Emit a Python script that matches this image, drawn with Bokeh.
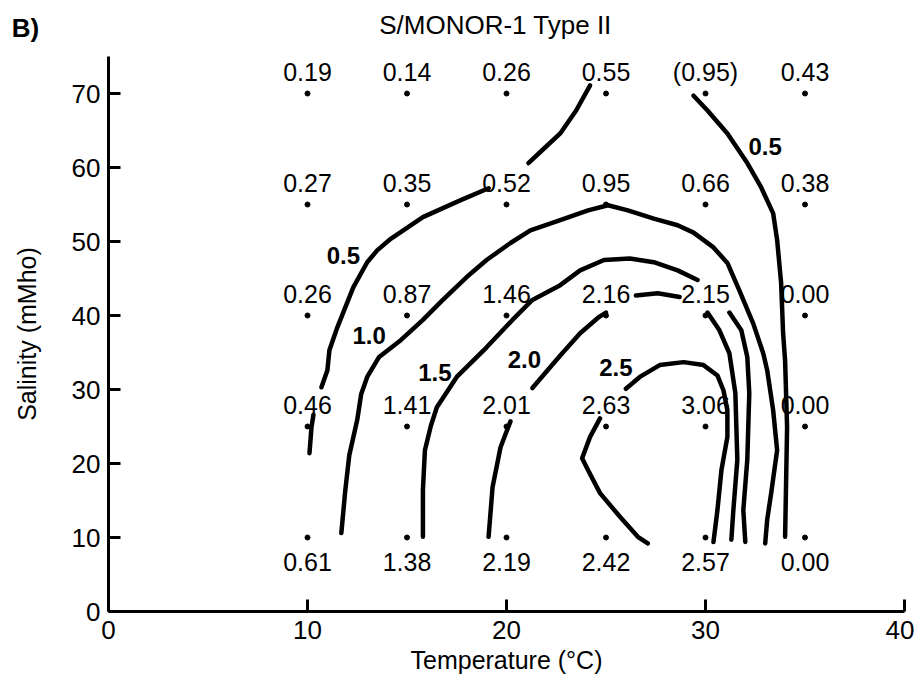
from bokeh.plotting import figure
from bokeh.models import Range1d, ColumnDataSource, FixedTicker
from bokeh.layouts import column
from bokeh.core.properties import value
from bokeh.embed import file_html
from bokeh.resources import INLINE

FONT = "Liberation Sans"

# ---- measured grid (temperature, salinity) and readings ----
temps = [10, 15, 20, 25, 30, 35]
salinities = [70, 55, 40, 25, 10]
row_70 = ["0.19", "0.14", "0.26", "0.55", "(0.95)", "0.43"]
row_55 = ["0.27", "0.35", "0.52", "0.95", "0.66", "0.38"]
row_40 = ["0.26", "0.87", "1.46", "2.16", "2.15", "0.00"]
row_25 = ["0.46", "1.41", "2.01", "2.63", "3.06", "0.00"]
row_10 = ["0.61", "1.38", "2.19", "2.42", "2.57", "0.00"]
readings = [row_70, row_55, row_40, row_25, row_10]

# ---- hand-drawn contour lines (temperature, salinity) ----
c05a_T = [24.2, 23.5, 22.7, 21.9, 21.1]
c05a_S = [71.1, 67.7, 64.6, 62.6, 60.6]
c05b_T = [19.1, 17.7, 15.8, 14.2, 13.5, 13.0, 12.3, 11.9, 11.5, 11.1, 11.0, 10.7]
c05b_S = [57.2, 55.6, 53.3, 50.4, 48.8, 47.2, 43.8, 41.1, 38.4, 35.3, 32.6, 30.3]
c05c_T = [10.3, 10.2, 10.1]
c05c_S = [26.6, 24.9, 21.4]
c05d_T = [29.4, 30.1, 31.1, 32.1, 32.8, 33.4, 33.6, 33.8, 33.9, 34.0, 34.1, 34.0]
c05d_S = [69.7, 67.7, 64.6, 60.6, 57.3, 53.8, 50.2, 44.4, 37.6, 33.9, 24.9, 10.1]

c10_T = [11.7, 11.9, 12.1, 12.5, 12.7, 13.0, 13.6, 14.7, 15.8, 16.8, 18.0, 19.0, 20.2,
         21.2, 22.7, 24.1, 25.1, 26.1, 27.4, 28.6, 29.4, 30.4, 31.1, 31.7, 32.4, 32.9,
         33.1, 33.4, 33.6, 33.3, 33.1, 33.0]
c10_S = [10.6, 16.4, 21.1, 25.9, 29.4, 31.7, 34.4, 36.7, 39.4, 42.1, 45.2, 47.5, 49.8,
         51.5, 52.9, 54.2, 54.9, 54.2, 53.1, 52.2, 51.2, 49.2, 47.1, 43.4, 38.9, 34.9,
         32.6, 27.2, 21.8, 16.0, 12.4, 9.2]

c15a_T = [15.8, 15.8, 15.9, 16.2, 16.5, 17.5, 19.0, 20.3, 21.3, 22.7, 23.7, 24.9, 26.2,
          27.4, 28.6, 29.6]
c15a_S = [10.1, 16.4, 21.8, 25.1, 27.6, 31.7, 35.7, 39.4, 42.1, 44.1, 46.1, 47.5, 47.7,
          47.2, 46.1, 44.8]
c15b_T = [31.2, 31.8, 32.1, 32.2, 32.1, 31.9, 32.0]
c15b_S = [40.4, 38.0, 34.4, 29.5, 20.5, 13.7, 9.4]

c20a_T = [19.1, 19.3, 19.7, 20.2]
c20a_S = [10.1, 16.8, 22.2, 25.7]
c20b_T = [21.3, 22.7, 23.7, 24.6, 25.0]
c20b_S = [30.2, 34.6, 37.6, 39.7, 40.4]
c20c_T = [26.5, 27.6, 28.7]
c20c_S = [42.7, 43.0, 42.5]
c20d_T = [30.1, 30.7, 31.2, 31.5, 31.6, 31.4, 31.3]
c20d_S = [40.4, 38.0, 34.9, 29.5, 20.5, 13.7, 9.7]

c25a_T = [26.0, 26.7, 27.7, 28.9, 29.9, 30.6, 30.9, 31.1, 31.1, 30.8, 30.6, 30.4]
c25a_S = [30.1, 31.7, 33.3, 33.7, 33.3, 31.9, 29.9, 27.2, 23.6, 19.1, 13.7, 9.4]
c25b_T = [24.7, 24.2, 23.8, 24.1, 24.7, 25.7, 26.6, 27.1]
c25b_S = [26.1, 23.6, 20.7, 19.1, 16.0, 12.8, 10.1, 9.2]

level_text = ["0.5", "0.5", "1.0", "1.5", "2.0", "2.5"]
level_T = [11.8, 33.0, 13.1, 16.4, 20.9, 25.5]
level_S = [48.1, 62.8, 37.3, 32.3, 34.1, 33.0]

x_ticks = [0, 10, 20, 30, 40]
y_ticks = [0, 10, 20, 30, 40, 50, 60, 70]

panel_tag = "B)"
title_text = "S/MONOR-1 Type II"

W = 914

# ---- heading strip (panel tag + title) ----
head = figure(width=W, height=50, x_range=Range1d(0, W), y_range=Range1d(50, 0),
              output_backend="svg", toolbar_location=None,
              x_axis_type=None, y_axis_type=None,
              min_border=0, min_border_left=0, min_border_right=0,
              min_border_top=0, min_border_bottom=0)
head.frame_align = False
head.outline_line_color = None
head.grid.visible = False
head.text(x=[495], y=[24], text=[title_text], text_font=value(FONT),
          text_font_size="26px", text_align="center", text_baseline="middle",
          text_color="black")
head.text(x=[25], y=[27], text=[panel_tag], text_font=value(FONT),
          text_font_size="26px", text_font_style="bold", text_align="center",
          text_baseline="middle", text_color="black")

# ---- main chart ----
p = figure(width=W, height=630, x_range=Range1d(0, 40), y_range=Range1d(0, 75),
           output_backend="svg", toolbar_location=None,
           min_border_left=108, min_border_right=10, min_border_top=6, min_border_bottom=69)
p.frame_align = False
p.outline_line_color = None
p.grid.visible = False
p.background_fill_color = "white"

for ax in (p.xaxis[0], p.yaxis[0]):
    ax.axis_line_width = 3
    ax.axis_line_color = "black"
    ax.major_tick_line_width = 3
    ax.major_tick_line_color = "black"
    ax.major_tick_in = 12
    ax.major_tick_out = 0
    ax.minor_tick_line_color = None
    ax.major_label_text_font = FONT
    ax.major_label_text_font_size = "26px"
    ax.major_label_text_color = "black"
    ax.axis_label_text_font = FONT
    ax.axis_label_text_font_size = "25px"
    ax.axis_label_text_font_style = "normal"
    ax.axis_label_text_color = "black"

p.xaxis.ticker = FixedTicker(ticks=x_ticks)
p.yaxis.ticker = FixedTicker(ticks=y_ticks)
p.xaxis.axis_label = "Temperature (°C)"
p.yaxis.axis_label = "Salinity (mMho)"
p.xaxis.major_label_standoff = 9
p.xaxis.axis_label_standoff = 4
p.yaxis.major_label_standoff = 8
p.yaxis.axis_label_standoff = 28

# contour lines
xs = [c05a_T, c05b_T, c05c_T, c05d_T, c10_T, c15a_T, c15b_T,
      c20a_T, c20b_T, c20c_T, c20d_T, c25a_T, c25b_T]
ys = [c05a_S, c05b_S, c05c_S, c05d_S, c10_S, c15a_S, c15b_S,
      c20a_S, c20b_S, c20c_S, c20d_S, c25a_S, c25b_S]
p.multi_line(xs=xs, ys=ys, line_color="black", line_width=4.5,
             line_join="round", line_cap="round")

# measurement points and readings
pt_T, pt_S, pt_txt, pt_dy = [], [], [], []
for s, row in zip(salinities, readings):
    for t, txt in zip(temps, row):
        pt_T.append(t)
        pt_S.append(s)
        pt_txt.append(txt)
        pt_dy.append(24 if s == 10 else -22)
src = ColumnDataSource(dict(T=pt_T, S=pt_S, txt=pt_txt, dy=pt_dy))
p.scatter(x="T", y="S", source=src, size=5, color="black")
p.text(x="T", y="S", text="txt", y_offset="dy", source=src, text_font=value(FONT),
       text_font_size="25px", text_align="center", text_baseline="middle",
       text_color="black")

# contour level labels
p.text(x=level_T, y=level_S, text=level_text, text_font=value(FONT),
       text_font_size="24px", text_font_style="bold", text_align="center",
       text_baseline="middle", text_color="black")

layout = column(head, p, spacing=0)
open("out.html", "w").write(file_html(layout, INLINE))
